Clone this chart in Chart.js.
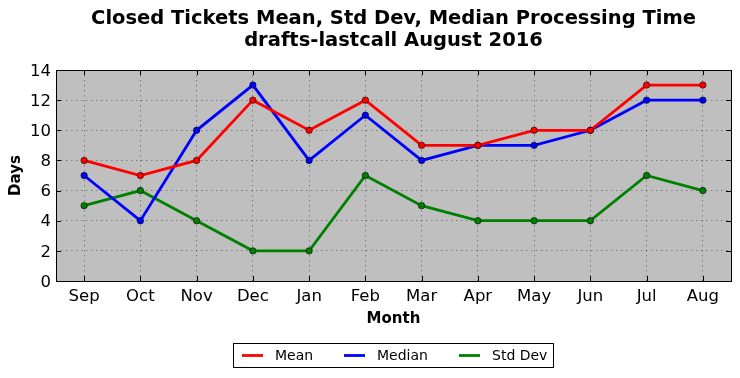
<!DOCTYPE html>
<html><head><meta charset="utf-8">
<script src="https://cdn.jsdelivr.net/npm/chart.js@4/dist/chart.umd.min.js"></script>
<style>html,body{margin:0;padding:0;background:#fff}#c{display:block}</style>
</head><body>
<canvas id="c" width="740" height="378"></canvas>
<script>
const months = ["Sep","Oct","Nov","Dec","Jan","Feb","Mar","Apr","May","Jun","Jul","Aug"];
const meanVals = [8,7,8,12,10,12,9,9,10,10,13,13];
const medianVals = [7,4,10,13,8,11,8,9,9,10,12,12];
const stdVals = [5,6,4,2,2,7,5,4,4,4,7,6];
const yTicks = [0,2,4,6,8,10,12,14];
const titleLines = ["Closed Tickets Mean, Std Dev, Median Processing Time","drafts-lastcall August 2016"];
const xTitle = "Month";
const yTitle = "Days";

const FONT = "'DejaVu Sans', sans-serif";

const deco = {
  id: 'deco',
  beforeDraw(chart) {
    const {ctx, chartArea: a} = chart;
    ctx.save();
    ctx.fillStyle = '#bfbfbf';
    ctx.fillRect(a.left, a.top, a.right - a.left, a.bottom - a.top);
    ctx.restore();
  },
  afterDatasetsDraw(chart) {
    const {ctx, chartArea: a, scales} = chart;
    ctx.save();
    ctx.strokeStyle = '#000';
    ctx.lineWidth = 1;
    ctx.beginPath();
    months.forEach((m, i) => {
      const x = Math.round(scales.x.getPixelForValue(i)) + 0.5;
      ctx.moveTo(x, a.bottom); ctx.lineTo(x, a.bottom - 5);
      ctx.moveTo(x, a.top); ctx.lineTo(x, a.top + 5);
    });
    yTicks.forEach(v => {
      const y = Math.round(scales.y.getPixelForValue(v)) + 0.5;
      ctx.moveTo(a.left, y); ctx.lineTo(a.left + 5, y);
      ctx.moveTo(a.right, y); ctx.lineTo(a.right - 5, y);
    });
    ctx.stroke();
    ctx.strokeRect(Math.round(a.left) + 0.5, Math.round(a.top) + 0.5, Math.round(a.right - a.left), Math.round(a.bottom - a.top));
    ctx.restore();
  },
  afterDraw(chart) {
    const {ctx, chartArea: a} = chart;
    const cx = (a.left + a.right) / 2;
    ctx.save();
    ctx.fillStyle = '#000';
    ctx.textAlign = 'center';
    ctx.textBaseline = 'middle';
    ctx.font = "bold 19.5px " + FONT;
    ctx.fillText(titleLines[0], cx, 19);
    ctx.fillText(titleLines[1], cx, 41);
    ctx.font = "bold 15px " + FONT;
    ctx.fillText(xTitle, cx, 319);
    ctx.save();
    ctx.translate(16, (a.top + a.bottom) / 2);
    ctx.rotate(-Math.PI / 2);
    ctx.fillText(yTitle, 0, 0);
    ctx.restore();
    // legend
    const bx = 233.5, by = 343.5, bw = 320, bh = 24;
    ctx.fillStyle = '#fff';
    ctx.fillRect(bx, by, bw, bh);
    ctx.strokeStyle = '#000';
    ctx.lineWidth = 1;
    ctx.strokeRect(bx, by, bw, bh);
    const items = chart.data.datasets;
    const starts = [242, 344, 459];
    ctx.font = "14px " + FONT;
    ctx.textAlign = 'left';
    items.forEach((d, i) => {
      const x = starts[i];
      const y = by + bh / 2;
      ctx.strokeStyle = d.borderColor;
      ctx.lineWidth = 2.8;
      ctx.beginPath(); ctx.moveTo(x, y); ctx.lineTo(x + 21, y); ctx.stroke();
      ctx.fillStyle = '#000';
      ctx.fillText(d.label, x + 33, y + 1);
    });
    ctx.restore();
  }
};

function ds(label, data, color) {
  return {
    label, data,
    borderColor: color,
    backgroundColor: color,
    pointBackgroundColor: color,
    pointBorderColor: '#000',
    pointBorderWidth: 0.6,
    pointRadius: 3.2,
    borderWidth: 2.8,
    tension: 0,
    fill: false
  };
}

new Chart(document.getElementById('c'), {
  type: 'line',
  data: {
    labels: months,
    datasets: [
      ds('Mean', meanVals, '#ff0000'),
      ds('Median', medianVals, '#0000ff'),
      ds('Std Dev', stdVals, '#008000')
    ]
  },
  options: {
    responsive: false,
    animation: false,
    devicePixelRatio: 1,
    layout: { padding: { left: 0, right: 9, top: 70, bottom: 0 } },
    plugins: { legend: { display: false }, title: { display: false }, tooltip: { enabled: false } },
    scales: {
      x: {
        type: 'category',
        offset: true,
        grid: { display: true, offset: false, color: 'rgba(0,0,0,0.35)', lineWidth: 1, drawTicks: false },
        border: { display: false, dash: [1.5, 3.5] },
        ticks: { color: '#000', font: { family: FONT, size: 16.5 }, padding: 6, maxRotation: 0, autoSkip: false },
        afterFit(s) { s.height = 97; }
      },
      y: {
        min: 0, max: 14,
        grid: { color: 'rgba(0,0,0,0.35)', lineWidth: 1, drawTicks: false },
        border: { display: false, dash: [1.5, 3.5] },
        ticks: { color: '#000', font: { family: FONT, size: 16.5 }, padding: 5, stepSize: 2, labelOffset: 1.5 },
        afterFit(s) { s.width = 56; }
      }
    }
  },
  plugins: [deco]
});
</script>
</body></html>
